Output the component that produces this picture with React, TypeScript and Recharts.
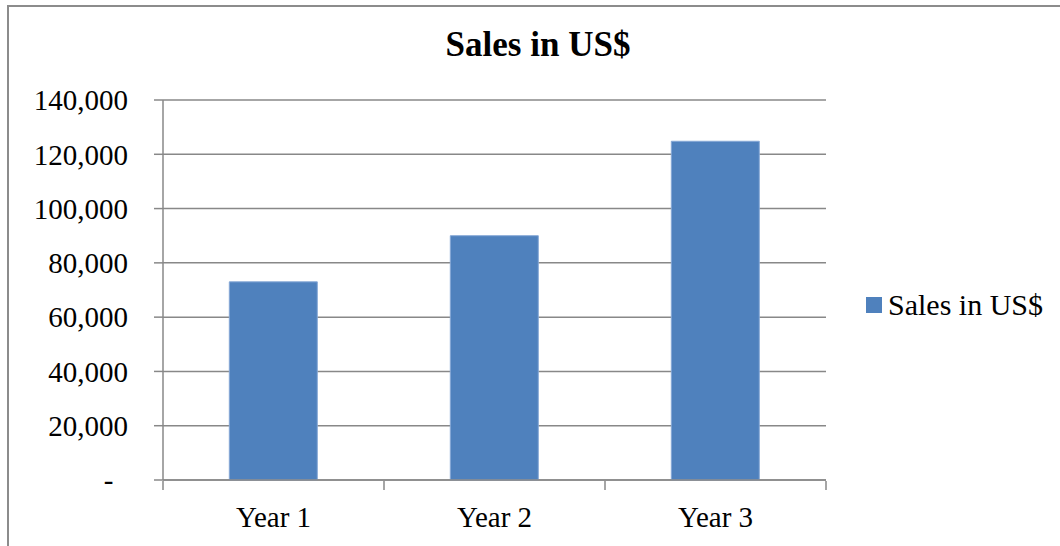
import { BarChart, Bar, XAxis, YAxis, CartesianGrid, Legend } from "recharts";

const years = ["Year 1", "Year 2", "Year 3"];
const sales = [73000, 90000, 124800];
const yTicks = [0, 20000, 40000, 60000, 80000, 100000, 120000, 140000];
const edgeTicks = [0, 1, 2, 3];

const data = years.map((y, i) => ({ year: y, sales: sales[i], idx: i + 0.5 }));

const FONT = '"Liberation Serif", "Times New Roman", serif';
const GRID = "#888888";

const fmt = (v: number) => (v === 0 ? "-\u00A0\u00A0" : v.toLocaleString("en-US"));

function LegendBox({ payload }: any) {
  return (
    <div style={{ fontFamily: FONT, fontSize: 30, color: "#000", whiteSpace: "nowrap" }}>
      {(payload || []).map((p: any) => (
        <div key={p.value} style={{ display: "flex", alignItems: "center" }}>
          <span style={{ width: 16, height: 16, background: p.color, marginRight: 6, display: "inline-block" }} />
          <span>{p.value}</span>
        </div>
      ))}
    </div>
  );
}

export default function App() {
  return (
    <div style={{ position: "absolute", left: 0, top: 0, width: 1060, height: 546, overflow: "hidden", background: "#fff" }}>
      <div style={{ position: "absolute", left: 7, top: 5, width: 1200, height: 700, border: "2px solid #8c8c8c" }} />
      <div
        style={{
          position: "absolute", left: 0, top: 25, width: 1076, textAlign: "center",
          fontFamily: FONT, fontWeight: "bold", fontSize: 35, color: "#000",
        }}
      >
        Sales in US$
      </div>
      <div style={{ position: "absolute", left: 0, top: 0 }}>
        <BarChart width={1060} height={546} data={data} margin={{ top: 100, right: 234, left: 0, bottom: 0 }} barCategoryGap="30%">
          <CartesianGrid vertical={false} stroke={GRID} strokeWidth={1.5} />
          <XAxis
            xAxisId="edge" type="number" dataKey="idx" domain={[0, 3]} ticks={edgeTicks} allowDataOverflow
            height={65} tick={() => <g />} axisLine={false} tickLine={{ stroke: GRID, strokeWidth: 1.5 }} tickSize={9}
          />
          <XAxis
            dataKey="year" height={1} tickLine={false} axisLine={{ stroke: GRID, strokeWidth: 1.5 }}
            tickMargin={20} tick={{ fill: "#000", fontFamily: FONT, fontSize: 29 }}
          />
          <YAxis
            width={163} domain={[0, 140000]} ticks={yTicks} tickFormatter={fmt} tickSize={9} tickMargin={26}
            axisLine={{ stroke: GRID, strokeWidth: 1.5 }} tickLine={{ stroke: GRID, strokeWidth: 1.5 }}
            tick={{ fill: "#000", fontFamily: FONT, fontSize: 29 }}
          />
          <Legend
            content={<LegendBox />} layout="horizontal" align="center" verticalAlign="middle"
            wrapperStyle={{ left: 866, top: 288, width: 194 }}
          />
          <Bar dataKey="sales" name="Sales in US$" fill="#4F81BD" stroke="#86a8d6" strokeWidth={1} isAnimationActive={false} />
        </BarChart>
      </div>
    </div>
  );
}
